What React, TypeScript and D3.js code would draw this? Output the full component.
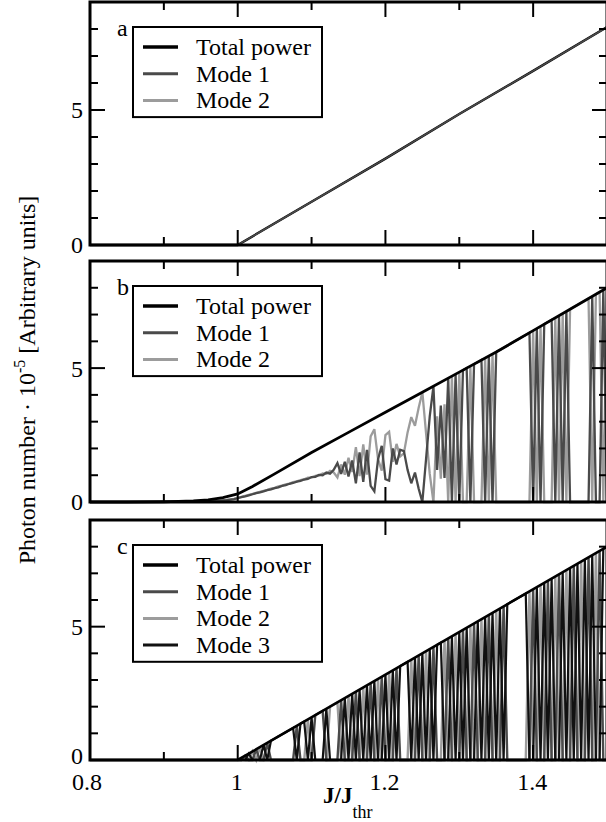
import React from "react";
import * as d3 from "d3";

// ---------- axis ticks ----------
const xMajorTicks = [0.8, 1.0, 1.2, 1.4];
const xMajorLabels = ["0.8", "1", "1.2", "1.4"];
const xMinorTicks = [0.9, 1.1, 1.3, 1.5];
const yMajorTicks = [0, 5];
const yMajorLabels = ["0", "5"];
const yMinorTicks = [1, 2, 3, 4, 6, 7, 8];

// ---------- panel a ----------
const aJ = [0.8, 1.0, 1.1, 1.2, 1.3, 1.4, 1.5];
const aTotal = [0, 0, 1.6, 3.2, 4.85, 6.45, 8.07];
const aMode1 = [0, 0, 1.6, 3.2, 4.85, 6.45, 8.07];
const aMode2 = [0, 0, 0, 0, 0, 0, 0];

// ---------- panel b ----------
const bTotalJ = [0.8, 0.85, 0.9, 0.92, 0.94, 0.96, 0.98, 1.0, 1.02, 1.05, 1.1, 1.15, 1.2, 1.25, 1.3, 1.35, 1.4, 1.45, 1.5];
const bTotal = [0, 0, 0.01, 0.02, 0.04, 0.08, 0.16, 0.3, 0.58, 1.05, 1.85, 2.6, 3.35, 4.1, 4.85, 5.6, 6.4, 7.2, 8.0];
const bModeStart = 0.96;
const bModeStep = 0.005;
const bMode1 = [
  0.03, 0.035, 0.04, 0.05, 0.06, 0.07, 0.09, 0.11,
  0.14, 0.18, 0.21, 0.25, 0.29, 0.33, 0.36, 0.40, 0.44, 0.47,
  0.52, 0.55, 0.60, 0.63, 0.68, 0.71, 0.76, 0.79, 0.84, 0.86,
  0.93, 0.94, 1.01, 1.00, 1.10, 1.06, 1.20, 1.45, 1.05, 1.50,
  0.95, 1.55, 0.70, 1.85, 0.75, 1.95, 0.60, 0.40, 1.60, 2.10,
  0.85, 0.80, 2.00, 1.40, 1.95, 1.90, 1.20, 0.70, 1.10, 0.50,
  0.00, 1.60, 3.20, 4.32, 1.20, 3.60, 0.90, 4.62, 0, 4.77,
  0, 4.92, 5.00, 0, 5.15, 5.22, 5.30, 0, 5.45, 0,
  5.60, 5.68, 5.76, 5.84, 5.92, 6.00, 6.08, 6.16, 6.24, 6.32,
  0, 6.48, 0, 6.64, 6.72, 6.80, 0, 6.96, 0, 7.12,
  0, 0, 0, 0, 0, 0, 7.68, 0, 0, 7.92,
  0,
];
const bMode2 = [
  0.03, 0.035, 0.04, 0.05, 0.06, 0.075, 0.095, 0.12,
  0.16, 0.19, 0.23, 0.27, 0.30, 0.34, 0.38, 0.42, 0.45, 0.50,
  0.53, 0.58, 0.61, 0.66, 0.69, 0.74, 0.77, 0.82, 0.85, 0.91,
  0.92, 0.98, 0.99, 1.07, 1.05, 1.16, 1.10, 0.92, 1.40, 1.02,
  1.65, 1.12, 2.05, 0.97, 2.15, 1.02, 2.45, 2.72, 1.60, 1.17,
  2.50, 2.62, 1.50, 2.17, 1.70, 1.82, 2.60, 3.17, 2.85, 3.52,
  4.10, 2.57, 1.05, 0, 3.20, 0.87, 3.65, 0, 4.70, 0,
  4.85, 0, 0, 5.07, 0, 0, 0, 5.37, 0, 5.52,
  0, 0, 0, 0, 0, 0, 0, 0, 0, 0,
  6.40, 0, 6.56, 0, 0, 0, 6.88, 0, 7.04, 0,
  7.20, 7.28, 7.36, 7.44, 7.52, 7.60, 0, 7.76, 7.84, 0,
  8.00,
];

// ---------- panel c ----------
const cTotalJ = [0.8, 1.0, 1.5];
const cTotal = [0, 0, 8.0];
const cModeStart = 1.0;
const cModeStep = 0.005;
const cMode1 = [
  0, 0, 0.16, 0, 0, 0.4, 0, 0, 0.64, 0,
  0, 0, 0, 0, 0, 0, 1.28, 0, 0, 0,
  0, 1.68, 1.76, 1.84, 0, 0, 0, 0, 2.24, 0,
  0, 0, 2.56, 0, 0, 0, 2.88, 0, 0, 3.12,
  0, 0, 0, 3.44, 0, 0, 0, 0, 0, 3.92,
  0, 0, 0, 4.24, 0, 0, 0, 4.56, 0, 0,
  0, 4.88, 0, 0, 5.12, 0, 0, 0, 5.44, 0,
  0, 0, 5.76, 0, 0, 0, 0, 0, 0, 0,
  6.4, 0, 0, 0, 6.72, 0, 0, 6.96, 0, 0,
  0, 7.28, 0, 0, 0, 7.6, 0, 0, 7.84, 0,
  0,
];
const cMode2 = [
  0, 0.08, 0, 0, 0.32, 0, 0.48, 0, 0, 0,
  0, 0, 0, 0, 0, 0, 0, 0, 0, 1.52,
  0, 0, 0, 0, 0, 2.0, 2.08, 2.16, 0, 0,
  2.4, 0, 0, 0, 2.72, 0, 0, 0, 3.04, 0,
  0, 3.28, 0, 0, 0, 0, 0, 3.76, 0, 0,
  0, 4.08, 0, 0, 0, 0, 4.48, 0, 0, 4.72,
  0, 0, 0, 5.04, 0, 0, 5.28, 0, 0, 0,
  5.6, 0, 0, 0, 0, 0, 0, 0, 0, 6.32,
  0, 0, 6.56, 0, 0, 0, 6.88, 0, 0, 7.12,
  0, 0, 0, 7.44, 0, 0, 0, 7.76, 0, 0,
  0,
];
const cMode3 = [
  0, 0, 0, 0.24, 0, 0, 0, 0.56, 0, 0.72,
  0.8, 0.88, 0.96, 1.04, 1.12, 1.2, 0, 1.36, 1.44, 0,
  1.6, 0, 0, 0, 1.92, 0, 0, 0, 0, 2.32,
  0, 2.48, 0, 2.64, 0, 2.8, 0, 2.96, 0, 0,
  3.2, 0, 3.36, 0, 3.52, 3.6, 3.68, 0, 3.84, 0,
  4.0, 0, 4.16, 0, 4.32, 4.4, 0, 0, 4.64, 0,
  4.8, 0, 4.96, 0, 0, 5.2, 0, 5.36, 0, 5.52,
  0, 5.68, 0, 5.84, 5.92, 6.0, 6.08, 6.16, 6.24, 0,
  0, 6.48, 0, 6.64, 0, 6.8, 0, 0, 7.04, 0,
  7.2, 0, 7.36, 0, 7.52, 0, 7.68, 0, 0, 7.92,
  8.0,
];

const legendA = ["Total power", "Mode 1", "Mode 2"];
const legendB = ["Total power", "Mode 1", "Mode 2"];
const legendC = ["Total power", "Mode 1", "Mode 2", "Mode 3"];

// ---------- styling ----------
const FONT = "Liberation Serif";
const COL_TOTAL = "#000";
const COL_M1 = "#4a4a4a";
const COL_M2 = "#9c9c9c";
const COL_M3 = "#111";

const X_LEFT = 90;
const X_RIGHT = 607;

type Series = { xs: number[]; ys: number[]; color: string; width: number };
type PanelDef = {
  top: number;
  bottom: number;
  letter: string;
  legend: string[];
  legendColors: string[];
  legendWidths: number[];
  series: Series[];
  xLabels: boolean;
};

const gridOf = (start: number, step: number, n: number) => d3.range(n).map((i) => start + step * i);

const bGrid = gridOf(bModeStart, bModeStep, bMode1.length);
const cGrid = gridOf(cModeStart, cModeStep, cMode1.length);

const panels: PanelDef[] = [
  {
    top: 2,
    bottom: 245,
    letter: "a",
    legend: legendA,
    legendColors: [COL_TOTAL, COL_M1, COL_M2],
    legendWidths: [3.5, 3, 3],
    series: [
      { xs: aJ, ys: aMode2, color: COL_M2, width: 2.2 },
      { xs: aJ, ys: aTotal, color: COL_TOTAL, width: 2.4 },
      { xs: aJ, ys: aMode1, color: COL_M1, width: 1.6 },
    ],
    xLabels: false,
  },
  {
    top: 261,
    bottom: 502,
    letter: "b",
    legend: legendB,
    legendColors: [COL_TOTAL, COL_M1, COL_M2],
    legendWidths: [3.5, 3, 3],
    series: [
      { xs: bGrid, ys: bMode2, color: COL_M2, width: 2.3 },
      { xs: bGrid, ys: bMode1, color: COL_M1, width: 2.3 },
      { xs: bTotalJ, ys: bTotal, color: COL_TOTAL, width: 2.8 },
    ],
    xLabels: false,
  },
  {
    top: 520,
    bottom: 760,
    letter: "c",
    legend: legendC,
    legendColors: [COL_TOTAL, COL_M1, COL_M2, COL_M3],
    legendWidths: [3.5, 3, 3, 3],
    series: [
      { xs: cGrid, ys: cMode2, color: COL_M2, width: 2.4 },
      { xs: cGrid, ys: cMode1, color: COL_M1, width: 2.4 },
      { xs: cGrid, ys: cMode3, color: COL_M3, width: 2.2 },
      { xs: cTotalJ, ys: cTotal, color: COL_TOTAL, width: 2.6 },
    ],
    xLabels: true,
  },
];

const x = d3.scaleLinear().domain([0.8, 1.5]).range([X_LEFT, X_RIGHT]);
const txt = { fontFamily: FONT };

function Panel({ p }: { p: PanelDef }) {
  const y = d3.scaleLinear().domain([0, 9]).range([p.bottom, p.top]);
  const line = (xs: number[], ys: number[]) =>
    d3
      .line<number>()
      .x((_, i) => x(xs[i]))
      .y((v) => y(v))(ys) || "";
  const MAJ = 15;
  const MIN = 8;
  const boxTop = p.top + 25;
  const rowH = 26.7;
  const boxH = p.legend.length * rowH + 10;
  return (
    <g>
      {p.series.map((s, i) => (
        <path key={i} d={line(s.xs, s.ys)} fill="none" stroke={s.color} strokeWidth={s.width} strokeLinejoin="miter" strokeMiterlimit={3} />
      ))}
      {xMajorTicks.map((t) => (
        <g key={"xM" + t}>
          <line x1={x(t)} x2={x(t)} y1={p.bottom} y2={p.bottom - MAJ} stroke="#000" strokeWidth={2} />
          <line x1={x(t)} x2={x(t)} y1={p.top} y2={p.top + MAJ} stroke="#000" strokeWidth={2} />
        </g>
      ))}
      {xMinorTicks.map((t) => (
        <g key={"xm" + t}>
          <line x1={x(t)} x2={x(t)} y1={p.bottom} y2={p.bottom - MIN} stroke="#000" strokeWidth={2} />
          <line x1={x(t)} x2={x(t)} y1={p.top} y2={p.top + MIN} stroke="#000" strokeWidth={2} />
        </g>
      ))}
      {yMajorTicks.map((t) => (
        <g key={"yM" + t}>
          <line x1={X_LEFT} x2={X_LEFT + MAJ} y1={y(t)} y2={y(t)} stroke="#000" strokeWidth={2} />
          <line x1={X_RIGHT} x2={X_RIGHT - MAJ} y1={y(t)} y2={y(t)} stroke="#000" strokeWidth={2} />
        </g>
      ))}
      {yMinorTicks.map((t) => (
        <g key={"ym" + t}>
          <line x1={X_LEFT} x2={X_LEFT + MIN} y1={y(t)} y2={y(t)} stroke="#000" strokeWidth={2} />
          <line x1={X_RIGHT} x2={X_RIGHT - MIN} y1={y(t)} y2={y(t)} stroke="#000" strokeWidth={2} />
        </g>
      ))}
      <rect x={X_LEFT} y={p.top} width={X_RIGHT - X_LEFT} height={p.bottom - p.top} fill="none" stroke="#000" strokeWidth={3} />
      {yMajorTicks.map((t, i) => (
        <text key={"yl" + t} x={X_LEFT - 7} y={y(t) + (t === 0 && p.xLabels ? -4 : 0)} dy="0.35em" textAnchor="end" fontSize={24} style={txt}>
          {yMajorLabels[i]}
        </text>
      ))}
      {p.xLabels &&
        xMajorTicks.map((t, i) => (
          <text key={"xl" + t} x={x(t) - (i === 0 ? 3 : 1)} y={p.bottom + 30} textAnchor="middle" fontSize={24} style={txt}>
            {xMajorLabels[i]}
          </text>
        ))}
      <text x={117} y={p.top + 34} fontSize={24} style={txt}>
        {p.letter}
      </text>
      <rect x={133} y={boxTop} width={189} height={boxH} fill="#fff" stroke="#000" strokeWidth={2} />
      {p.legend.map((name, i) => {
        const ly = boxTop + 20 + i * rowH;
        return (
          <g key={name}>
            <line x1={143} x2={178} y1={ly} y2={ly} stroke={p.legendColors[i]} strokeWidth={p.legendWidths[i]} />
            <text x={196} y={ly + 8} fontSize={24} style={txt}>
              {name}
            </text>
          </g>
        );
      })}
    </g>
  );
}

export default function App() {
  return (
    <svg width={606} height={822} style={{ position: "absolute", left: 0, top: 0, background: "#fff" }}>
      <rect x={0} y={0} width={606} height={822} fill="#fff" />
      {panels.map((p) => (
        <Panel key={p.letter} p={p} />
      ))}
      <text transform="translate(35,380) rotate(-90)" textAnchor="middle" fontSize={24} style={txt}>
        Photon number · 10
        <tspan dy={-10} fontSize={16}>
          -5
        </tspan>
        <tspan dy={10}> [Arbitrary units]</tspan>
      </text>
      <text x={323} y={803} fontSize={23} style={txt} fontWeight="bold">
        J/J
        <tspan dy={15} fontSize={18} fontWeight="normal">
          thr
        </tspan>
      </text>
    </svg>
  );
}
